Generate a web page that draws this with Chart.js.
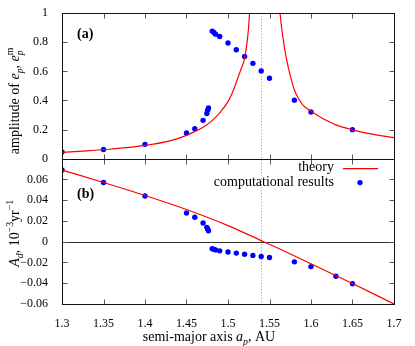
<!DOCTYPE html>
<html>
<head>
<meta charset="utf-8">
<script src="https://cdn.jsdelivr.net/npm/chart.js@4.4.1/dist/chart.umd.min.js"></script>
<style>
  html, body { margin: 0; padding: 0; background: #fff; }
</style>
</head>
<body>
<canvas id="c" width="415" height="346"></canvas>
<script>
// values (semi-major axis in AU)

// computational results, shared x for both panels
const compA  = [1.30, 1.35, 1.40, 1.45, 1.46, 1.47, 1.4745, 1.4755, 1.4765, 1.481, 1.483, 1.485, 1.49, 1.50, 1.51, 1.52, 1.53, 1.54, 1.55, 1.58, 1.60, 1.63, 1.65];
const compE  = [0.045, 0.063, 0.098, 0.176, 0.205, 0.263, 0.31, 0.333, 0.348, 0.877, 0.868, 0.856, 0.840, 0.795, 0.749, 0.703, 0.655, 0.603, 0.553, 0.402, 0.320, null, 0.199];
const compAd = [0.069, 0.057, 0.044, 0.0276, 0.0235, 0.018, 0.0138, 0.012, 0.0105, -0.0068, -0.0074, -0.0079, -0.0088, -0.0100, -0.0110, -0.0121, -0.0132, -0.0143, -0.0152, -0.0194, -0.0240, -0.0333, -0.0405];

// theory, panel (a): two branches around the resonance
const thLeftA  = [1.30, 1.33, 1.36, 1.40, 1.43, 1.45, 1.46, 1.47, 1.48, 1.49, 1.50, 1.505, 1.51, 1.515, 1.52, 1.5225, 1.5245, 1.526, 1.527];
const thLeftE  = [0.043, 0.053, 0.066, 0.091, 0.122, 0.160, 0.186, 0.215, 0.258, 0.315, 0.392, 0.45, 0.525, 0.605, 0.69, 0.78, 0.88, 1.0, 1.08];
const thRightA = [1.562, 1.5627, 1.566, 1.57, 1.575, 1.58, 1.585, 1.59, 1.60, 1.61, 1.62, 1.63, 1.65, 1.67, 1.70];
const thRightE = [1.05, 1.0, 0.84, 0.70, 0.57, 0.472, 0.413, 0.37, 0.325, 0.29, 0.258, 0.232, 0.198, 0.172, 0.144];

// theory, panel (b)
const thAdA = [1.30, 1.35, 1.40, 1.45, 1.50, 1.543, 1.55, 1.60, 1.65, 1.70];
const thAdV = [0.069, 0.057, 0.0445, 0.031, 0.0155, 0.0, -0.0025, -0.0213, -0.0403, -0.060];

const resonanceA = 1.54;

const SERIF = '"Liberation Serif", "DejaVu Serif", serif';
const RED = 'rgb(255,0,0)';
const BLUE = 'rgb(0,0,255)';
const TEXT_SIZE = 14;

function pts(xs, ys) {
	return xs.map((x, i) => ({x: x, y: ys[i]})).filter(p => p.y !== null);
}

function fmt(v) {
	const r = Math.round(v * 1000) / 1000;
	return (r < 0 ? '\u2212' : '') + Math.abs(r).toString();
}

// draws a line of text with italics / sub / superscripts, centred at 0,0
function richText(ctx, parts, size) {
	const pieces = parts.map(p => {
		const s = p.s ? size * 0.7 : size;
		const font = (p.it ? 'italic ' : '') + s + 'px ' + SERIF;
		ctx.font = font;
		return {t: p.t, font: font, w: ctx.measureText(p.t).width, dy: p.s === -1 ? size * 0.28 : (p.s === 1 ? -size * 0.42 : 0), keep: p.keep};
	});
	let total = 0;
	pieces.forEach(p => { if (!p.keep) total += p.w; });
	let x = -total / 2;
	let y = size * 0.33;
	ctx.textAlign = 'left';
	ctx.textBaseline = 'alphabetic';
	pieces.forEach(p => {
		ctx.font = p.font;
		ctx.fillText(p.t, x, y + p.dy);
		if (!p.keep) x += p.w;
	});
}

const decorations = {
	id: 'decorations',
	beforeDatasetsDraw(chart) {
		const ctx = chart.ctx;
		const area = chart.chartArea;
		const x = chart.scales.x;
		const yB = chart.scales.yB;
		ctx.save();
		// zero line of panel (b)
		const y0 = Math.round(yB.getPixelForValue(0)) + 0.5;
		ctx.strokeStyle = '#333';
		ctx.lineWidth = 1;
		ctx.beginPath();
		ctx.moveTo(area.left, y0);
		ctx.lineTo(area.right, y0);
		ctx.stroke();
		// resonance marker
		const xr = Math.round(x.getPixelForValue(resonanceA)) + 0.5;
		ctx.strokeStyle = '#999';
		ctx.setLineDash([1, 2]);
		ctx.beginPath();
		ctx.moveTo(xr, area.top);
		ctx.lineTo(xr, area.bottom);
		ctx.stroke();
		ctx.restore();
	},
	afterDatasetsDraw(chart) {
		const ctx = chart.ctx;
		const area = chart.chartArea;
		const x = chart.scales.x;
		ctx.save();
		ctx.lineWidth = 1;
		['yA', 'yB'].forEach(id => {
			const s = chart.scales[id];
			const top = Math.round(s.top) + 0.5;
			const bot = Math.round(s.bottom) + 0.5;
			const left = Math.round(area.left) + 0.5;
			const right = Math.round(area.right) + 0.5;
			// inward ticks
			ctx.strokeStyle = '#555';
			ctx.beginPath();
			x.ticks.forEach(t => {
				const px = Math.round(x.getPixelForValue(t.value)) + 0.5;
				ctx.moveTo(px, top); ctx.lineTo(px, top + 5);
				ctx.moveTo(px, bot); ctx.lineTo(px, bot - 5);
			});
			s.ticks.forEach(t => {
				const py = Math.round(s.getPixelForValue(t.value)) + 0.5;
				ctx.moveTo(left, py); ctx.lineTo(left + 5, py);
				ctx.moveTo(right, py); ctx.lineTo(right - 5, py);
			});
			ctx.stroke();
			// frame
			ctx.strokeStyle = '#111';
			ctx.strokeRect(left, top, right - left, bot - top);
		});
		ctx.restore();
	},
	afterDraw(chart) {
		const ctx = chart.ctx;
		const area = chart.chartArea;
		const yA = chart.scales.yA;
		const yB = chart.scales.yB;
		ctx.save();
		ctx.fillStyle = '#000';

		// panel letters
		ctx.font = 'bold 14px ' + SERIF;
		ctx.textBaseline = 'middle';
		ctx.textAlign = 'left';
		ctx.fillText('(a)', area.left + 15, yA.top + 21);
		ctx.fillText('(b)', area.left + 15, yB.top + 36);

		// legend
		ctx.font = TEXT_SIZE + 'px ' + SERIF;
		ctx.textAlign = 'right';
		const lx = area.right - 60;
		ctx.fillText('theory', lx, yB.top + 9);
		ctx.fillText('computational results', lx, yB.top + 24);
		ctx.strokeStyle = RED;
		ctx.lineWidth = 1.2;
		ctx.beginPath();
		ctx.moveTo(lx + 9, yB.top + 10);
		ctx.lineTo(lx + 44, yB.top + 10);
		ctx.stroke();
		ctx.fillStyle = BLUE;
		ctx.beginPath();
		ctx.arc(lx + 26, yB.top + 24, 2.7, 0, Math.PI * 2);
		ctx.fill();

		// axis titles
		ctx.fillStyle = '#000';
		ctx.save();
		ctx.translate(209, 336);
		richText(ctx, [
			{t: 'semi-major axis '}, {t: 'a', it: true}, {t: 'p', it: true, s: -1}, {t: ', AU'}
		], TEXT_SIZE);
		ctx.restore();

		ctx.save();
		ctx.translate(14, (yA.top + yA.bottom) / 2 + 15);
		ctx.rotate(-Math.PI / 2);
		richText(ctx, [
			{t: 'amplitude of '}, {t: 'e', it: true}, {t: 'p', it: true, s: -1}, {t: ', '},
			{t: 'e', it: true}, {t: 'p', it: true, s: -1, keep: true}, {t: 'm', s: 1}
		], TEXT_SIZE);
		ctx.restore();

		ctx.save();
		ctx.translate(14, (yB.top + yB.bottom) / 2 + 2);
		ctx.rotate(-Math.PI / 2);
		richText(ctx, [
			{t: 'A', it: true}, {t: 'd', it: true, s: -1}, {t: ', 10'}, {t: '\u22123', s: 1},
			{t: 'yr'}, {t: '\u22121', s: 1}
		], TEXT_SIZE);
		ctx.restore();

		ctx.restore();
	}
};

const tickFont = {family: SERIF, size: 12};

new Chart(document.getElementById('c'), {
	type: 'scatter',
	data: {
		datasets: [
			{label: 'theory', data: pts(thLeftA, thLeftE), yAxisID: 'yA', showLine: true, borderColor: RED, borderWidth: 1.2, pointRadius: 0, cubicInterpolationMode: 'monotone'},
			{label: 'theory', data: pts(thRightA, thRightE), yAxisID: 'yA', showLine: true, borderColor: RED, borderWidth: 1.2, pointRadius: 0, cubicInterpolationMode: 'monotone'},
			{label: 'computational results', data: pts(compA, compE), yAxisID: 'yA', pointRadius: 2.7, backgroundColor: BLUE, borderWidth: 0},
			{label: 'theory', data: pts(thAdA, thAdV), yAxisID: 'yB', showLine: true, borderColor: RED, borderWidth: 1.2, pointRadius: 0, cubicInterpolationMode: 'monotone'},
			{label: 'computational results', data: pts(compA, compAd), yAxisID: 'yB', pointRadius: 2.7, backgroundColor: BLUE, borderWidth: 0}
		]
	},
	options: {
		responsive: false,
		animation: false,
		devicePixelRatio: 1,
		layout: {padding: {left: 10, right: 21, top: 10, bottom: 0}},
		plugins: {legend: {display: false}, tooltip: {enabled: false}},
		scales: {
			x: {
				type: 'linear', min: 1.3, max: 1.7,
				grid: {display: false}, border: {display: false},
				ticks: {stepSize: 0.05, padding: 5, font: tickFont, color: '#000', maxRotation: 0, autoSkip: false, callback: v => fmt(v)},
				afterFit: s => { s.height = 42; }
			},
			yB: {
				type: 'linear', position: 'left', stack: 'panels', stackWeight: 1,
				min: -0.06, max: 0.08,
				grid: {display: false}, border: {display: false},
				ticks: {stepSize: 0.02, padding: 6, font: tickFont, color: '#000', autoSkip: false, callback: v => (Math.abs(v - 0.08) < 1e-9 ? '' : fmt(v))},
				afterFit: s => { s.width = 52; }
			},
			yA: {
				type: 'linear', position: 'left', stack: 'panels', stackWeight: 1,
				min: 0, max: 1,
				grid: {display: false}, border: {display: false},
				ticks: {stepSize: 0.2, padding: 6, font: tickFont, color: '#000', autoSkip: false, callback: v => fmt(v)},
				afterFit: s => { s.width = 52; }
			}
		}
	},
	plugins: [decorations]
});
</script>
</body>
</html>
